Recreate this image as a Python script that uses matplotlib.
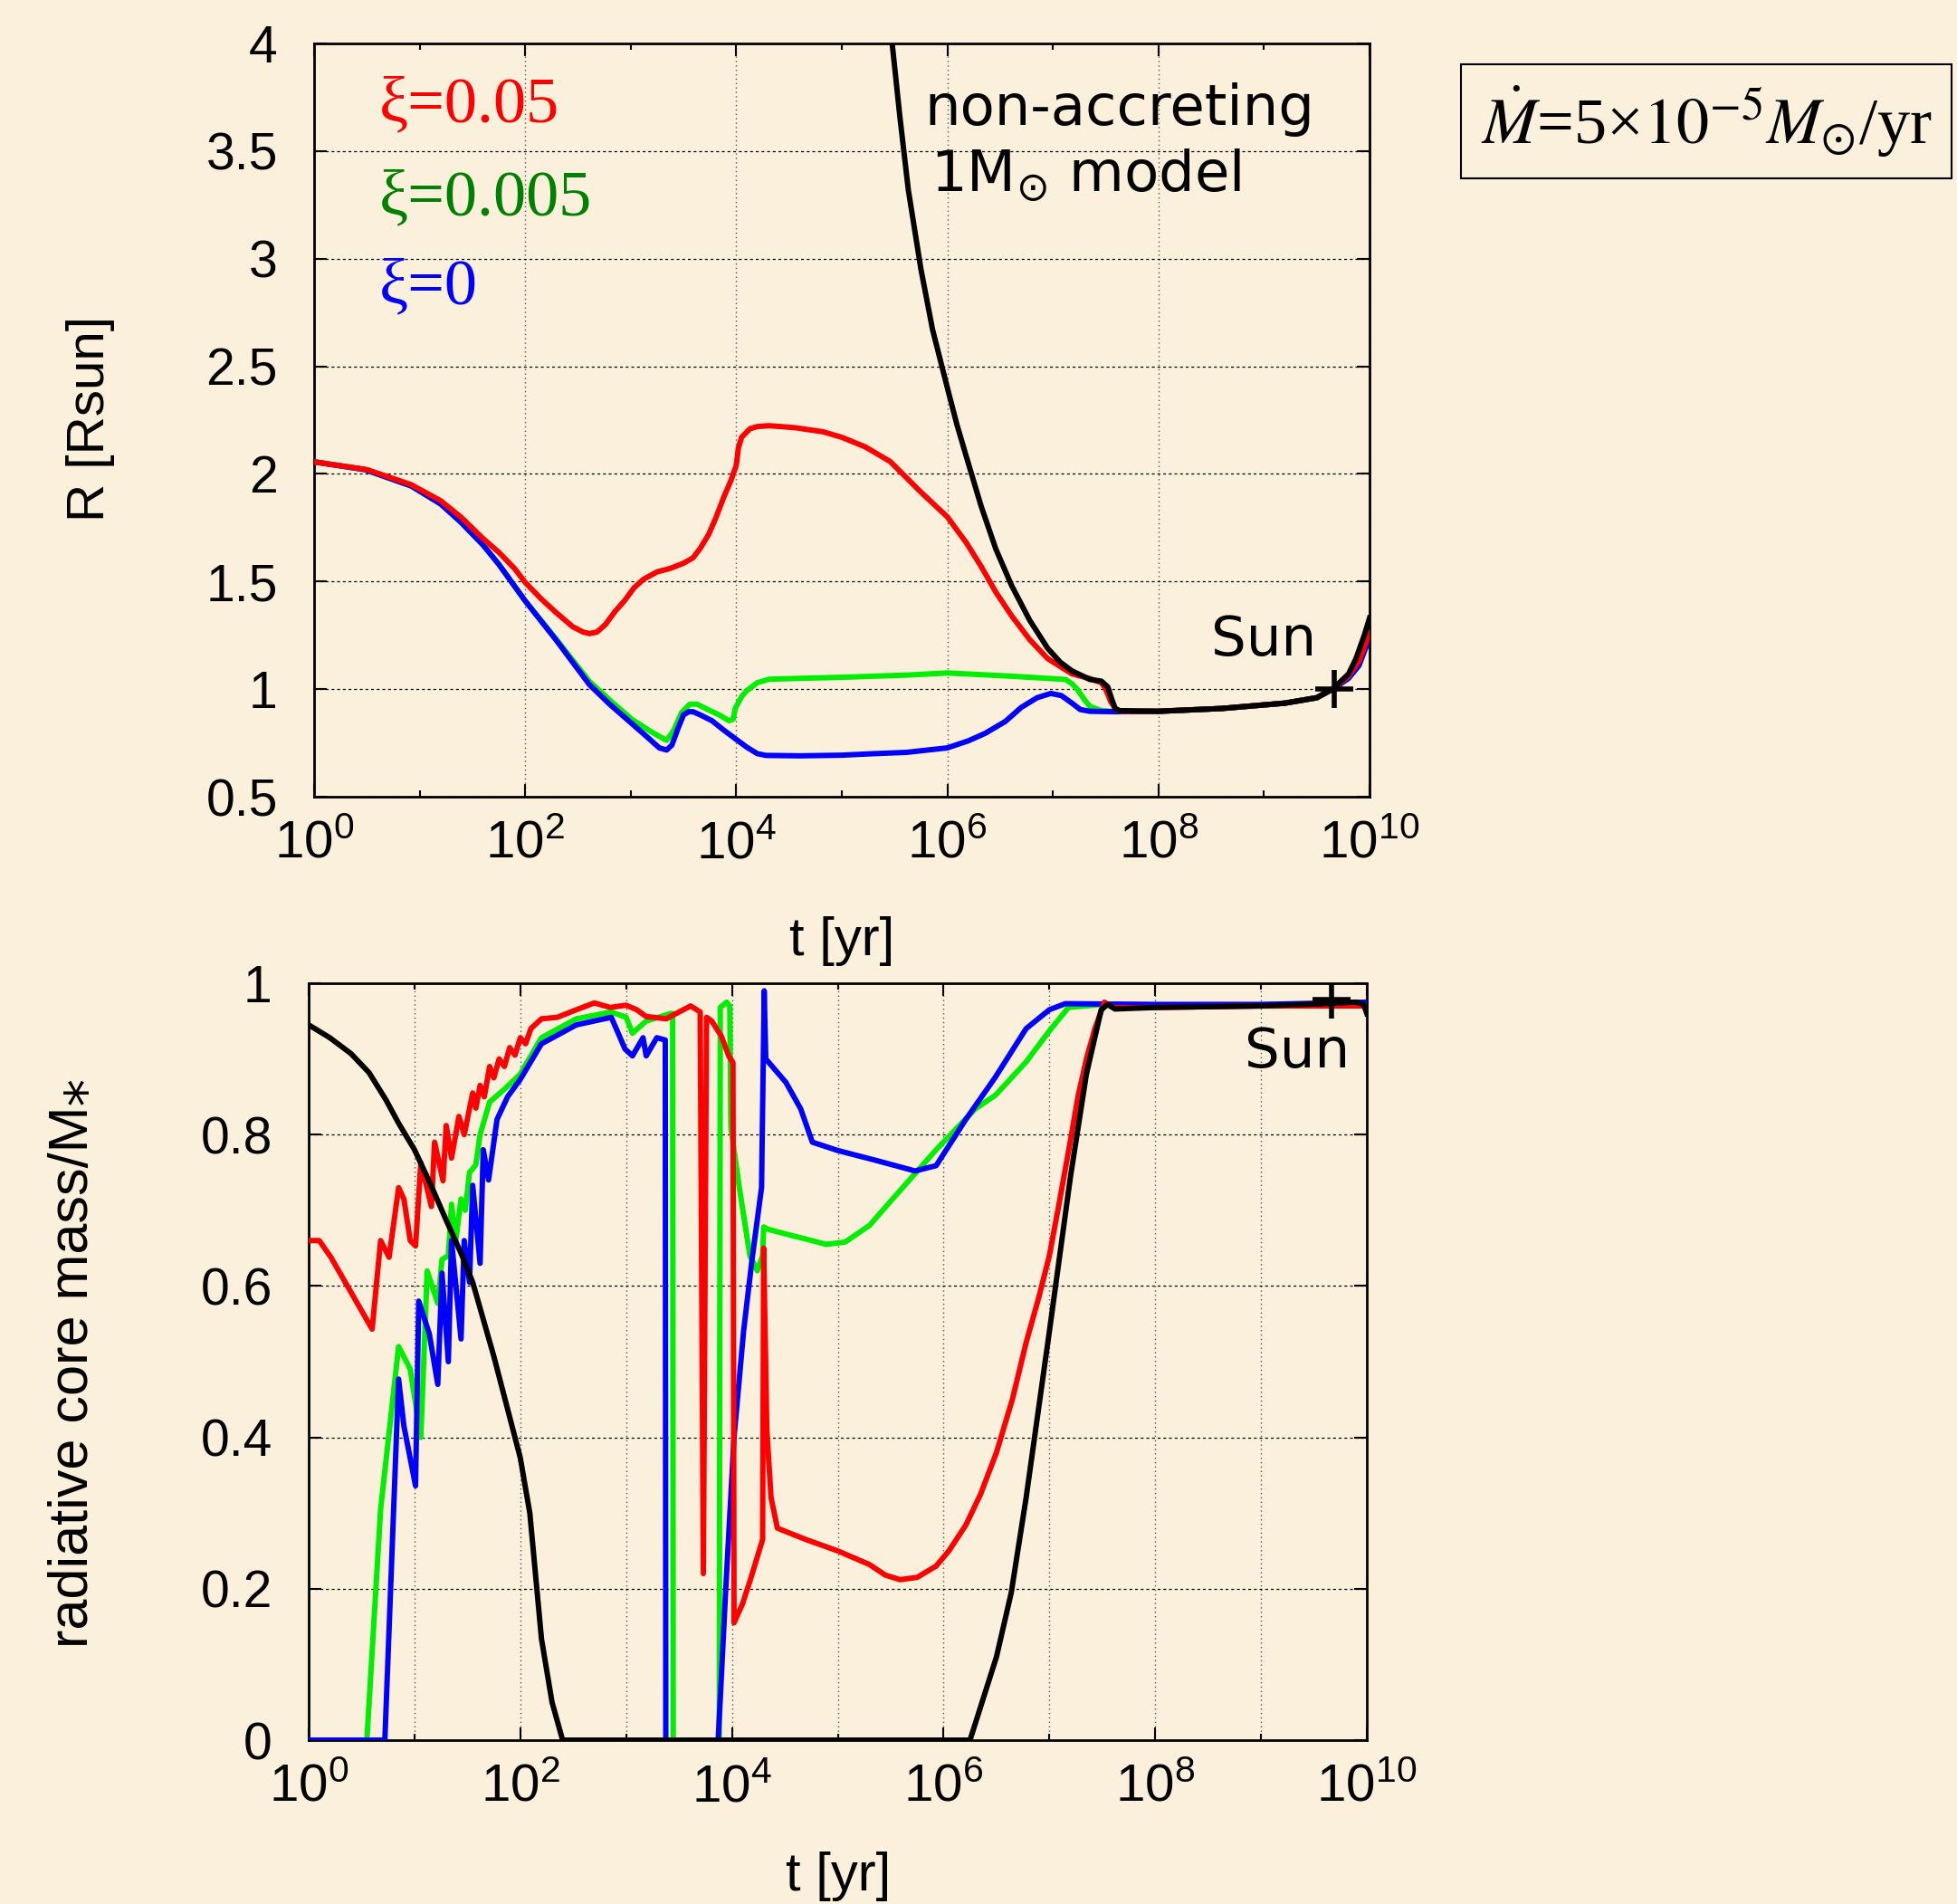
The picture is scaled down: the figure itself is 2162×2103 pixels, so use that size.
import numpy as np
import matplotlib
matplotlib.use('Agg')
import matplotlib.pyplot as plt
from matplotlib.ticker import FixedLocator, FixedFormatter, NullFormatter

# ---------------- data ----------------
# upper panel: log10(t / yr) and stellar radius R [Rsun]
logt_R_red = [0, 0.5, 0.92, 1.2, 1.39, 1.6, 1.75, 1.9, 2.0, 2.15, 2.29, 2.45, 2.55, 2.61, 2.68,
              2.76, 2.85, 2.94, 3.03, 3.12, 3.25, 3.37, 3.5, 3.59, 3.66, 3.74, 3.81, 3.88, 3.95,
              4.0, 4.02, 4.05, 4.13, 4.2, 4.31, 4.55, 4.82, 5.0, 5.22, 5.46, 5.75, 6.0, 6.18,
              6.32, 6.46, 6.61, 6.78, 6.95, 7.18, 7.35, 7.46, 7.5, 7.55, 7.6, 7.65, 8.0, 8.6,
              9.2, 9.5, 9.65, 9.8, 9.9, 10.0]
R_red = [2.056, 2.02, 1.95, 1.875, 1.80, 1.70, 1.636, 1.56, 1.496, 1.42, 1.357, 1.29, 1.265,
         1.258, 1.265, 1.30, 1.36, 1.41, 1.47, 1.51, 1.545, 1.56, 1.585, 1.61, 1.655, 1.72,
         1.80, 1.89, 1.97, 2.04, 2.12, 2.17, 2.21, 2.22, 2.224, 2.215, 2.196, 2.17, 2.126,
         2.057, 1.915, 1.80, 1.68, 1.57, 1.45, 1.34, 1.23, 1.142, 1.071, 1.049, 1.03,
         1.0, 0.94, 0.905, 0.897, 0.897, 0.91, 0.935, 0.96, 1.0, 1.06, 1.13, 1.26]

logt_R_green = [0, 0.48, 0.92, 1.2, 1.39, 1.6, 1.75, 2.0, 2.29, 2.61, 2.8, 3.01, 3.2, 3.34,
                3.41, 3.48, 3.56, 3.63, 3.73, 3.84, 3.93, 3.97, 3.99, 4.05, 4.1, 4.2, 4.31,
                4.6, 5.0, 5.61, 6.0, 6.61, 7.12, 7.18, 7.23, 7.3, 7.35, 7.46, 7.6, 8.0, 8.6,
                9.2, 9.5, 9.65, 9.8, 9.9, 10.0]
R_green = [2.056, 2.02, 1.944, 1.86, 1.776, 1.67, 1.58, 1.41, 1.235, 1.035, 0.95, 0.86, 0.80,
           0.762, 0.81, 0.89, 0.93, 0.93, 0.905, 0.88, 0.853, 0.86, 0.91, 0.965, 0.993, 1.03,
           1.046, 1.05, 1.055, 1.065, 1.075, 1.06, 1.045, 1.025, 1.0, 0.95, 0.92, 0.90, 0.895,
           0.897, 0.91, 0.935, 0.96, 1.0, 1.05, 1.11, 1.24]

logt_R_blue = [0, 0.48, 0.92, 1.2, 1.39, 1.6, 1.75, 2.0, 2.29, 2.61, 2.8, 3.01, 3.15, 3.27,
               3.34, 3.39, 3.45, 3.5, 3.55, 3.59, 3.66, 3.77, 3.88, 3.99, 4.1, 4.2, 4.28, 4.6,
               5.0, 5.3, 5.61, 6.0, 6.2, 6.36, 6.55, 6.7, 6.85, 6.98, 7.08, 7.18, 7.26, 7.35,
               7.6, 8.0, 8.6, 9.2, 9.5, 9.65, 9.8, 9.9, 10.0]
R_blue = [2.056, 2.02, 1.944, 1.86, 1.776, 1.67, 1.58, 1.41, 1.23, 1.02, 0.93, 0.84, 0.78,
          0.727, 0.717, 0.74, 0.82, 0.88, 0.895, 0.895, 0.88, 0.853, 0.81, 0.77, 0.73, 0.70,
          0.692, 0.69, 0.693, 0.70, 0.706, 0.727, 0.76, 0.795, 0.85, 0.915, 0.96, 0.98,
          0.97, 0.935, 0.905, 0.897, 0.895, 0.897, 0.91, 0.935, 0.96, 1.0, 1.05, 1.11, 1.24]

logt_R_black = [5.477, 5.55, 5.63, 5.75, 5.86, 6.0, 6.09, 6.18, 6.32, 6.46, 6.61, 6.78, 6.95,
                7.07, 7.18, 7.35, 7.46, 7.52, 7.56, 7.59, 7.63, 8.0, 8.6, 9.2, 9.5, 9.65, 9.8,
                9.87, 9.95, 10.0]
R_black = [4.0, 3.66, 3.32, 2.95, 2.67, 2.40, 2.23, 2.08, 1.85, 1.65, 1.48, 1.32, 1.19, 1.125,
           1.085, 1.045, 1.037, 1.01, 0.95, 0.91, 0.90, 0.897, 0.91, 0.935, 0.96, 1.0, 1.07,
           1.14, 1.25, 1.33]

# lower panel: log10(t / yr) and radiative core mass fraction
logt_c_red = [0, 0.1, 0.21, 0.60, 0.68, 0.76, 0.85, 0.90, 0.96, 1.01, 1.06, 1.16, 1.19, 1.27,
              1.30, 1.35, 1.42, 1.47, 1.55, 1.58, 1.62, 1.66, 1.71, 1.75, 1.8, 1.85, 1.9,
              1.95, 2.0, 2.05, 2.1, 2.2, 2.35, 2.53, 2.70, 2.85, 3.0, 3.1, 3.19, 3.38, 3.5,
              3.61, 3.70, 3.73, 3.76, 3.81, 3.90, 3.97, 4.01, 4.02, 4.1, 4.17, 4.29, 4.30,
              4.33, 4.37, 4.43, 4.7, 5.0, 5.3, 5.45, 5.59, 5.75, 5.93, 6.05, 6.21, 6.35, 6.5,
              6.65, 6.78, 6.9, 7.0, 7.1, 7.2, 7.27, 7.35, 7.43, 7.52, 7.6, 8.0, 9.0, 10.0]
core_red = [0.66, 0.66, 0.638, 0.543, 0.66, 0.638, 0.73, 0.715, 0.66, 0.653, 0.763, 0.705,
            0.79, 0.739, 0.812, 0.769, 0.824, 0.80, 0.855, 0.835, 0.865, 0.85, 0.89, 0.875,
            0.90, 0.89, 0.915, 0.905, 0.928, 0.92, 0.94, 0.953, 0.955, 0.965, 0.974, 0.968,
            0.971, 0.965, 0.956, 0.953, 0.962, 0.97, 0.962, 0.22, 0.955, 0.95, 0.93, 0.904,
            0.895, 0.155, 0.18, 0.21, 0.265, 0.65, 0.41, 0.32, 0.28, 0.265, 0.25, 0.232,
            0.218, 0.212, 0.215, 0.23, 0.25, 0.284, 0.325, 0.38, 0.45, 0.525, 0.585, 0.64,
            0.715, 0.793, 0.85, 0.90, 0.94, 0.975, 0.968, 0.968, 0.97, 0.97]

logt_c_green = [0, 0.55, 0.68, 0.85, 0.96, 1.06, 1.12, 1.22, 1.26, 1.32, 1.35, 1.39, 1.44,
                1.48, 1.52, 1.58, 1.62, 1.71, 1.85, 2.0, 2.2, 2.53, 2.86, 3.0, 3.06, 3.19,
                3.42, 3.44, 3.445, 3.88, 3.89, 3.95, 3.98, 3.99, 4.07, 4.17, 4.24, 4.29, 4.30,
                4.34, 4.50, 4.7, 4.89, 5.07, 5.3, 5.5, 5.93, 6.3, 6.49, 6.78, 7.0, 7.18, 7.5,
                8.0, 9.0, 10.0]
core_green = [0, 0, 0.305, 0.52, 0.49, 0.40, 0.62, 0.577, 0.635, 0.64, 0.708, 0.66, 0.715,
              0.70, 0.75, 0.76, 0.80, 0.843, 0.86, 0.88, 0.928, 0.953, 0.962, 0.955, 0.934,
              0.95, 0.96, 0.96, 0.0, 0.0, 0.968, 0.975, 0.97, 0.81, 0.73, 0.64, 0.62, 0.64,
              0.678, 0.675, 0.669, 0.662, 0.655, 0.658, 0.68, 0.712, 0.78, 0.834, 0.852,
              0.896, 0.937, 0.968, 0.972, 0.97, 0.97, 0.97]

logt_c_blue = [0, 0.72, 0.85, 0.90, 1.01, 1.04, 1.14, 1.22, 1.26, 1.32, 1.35, 1.44, 1.47,
               1.52, 1.55, 1.62, 1.65, 1.70, 1.78, 1.88, 2.0, 2.2, 2.53, 2.86, 2.99, 3.06,
               3.16, 3.19, 3.29, 3.37, 3.375, 3.87, 3.94, 4.02, 4.11, 4.19, 4.28, 4.305, 4.32,
               4.51, 4.65, 4.76, 5.0, 5.36, 5.73, 5.93, 6.21, 6.49, 6.78, 7.0, 7.15, 8.0, 9.0,
               10.0]
core_blue = [0, 0, 0.477, 0.415, 0.336, 0.58, 0.537, 0.47, 0.617, 0.50, 0.66, 0.53, 0.66,
             0.605, 0.733, 0.63, 0.78, 0.74, 0.82, 0.85, 0.873, 0.92, 0.945, 0.955, 0.913,
             0.904, 0.928, 0.904, 0.928, 0.925, 0.0, 0.0, 0.195, 0.40, 0.54, 0.635, 0.73,
             0.99, 0.90, 0.869, 0.834, 0.79, 0.779, 0.766, 0.752, 0.759, 0.82, 0.876, 0.94,
             0.965, 0.973, 0.972, 0.972, 0.975]

logt_c_black = [0, 0.2, 0.4, 0.57, 0.73, 0.85, 1.0, 1.15, 1.29, 1.45, 1.55, 1.75, 2.0, 2.09,
                2.2, 2.3, 2.4, 6.25, 6.5, 6.64, 6.78, 7.0, 7.2, 7.35, 7.49, 7.55, 7.62, 8.0,
                9.0, 9.6, 9.9, 9.97, 10.0]
core_black = [0.945, 0.928, 0.907, 0.882, 0.846, 0.815, 0.78, 0.735, 0.69, 0.64, 0.605, 0.507,
              0.373, 0.30, 0.134, 0.05, 0.0, 0.0, 0.11, 0.195, 0.32, 0.54, 0.745, 0.88, 0.965,
              0.972, 0.966, 0.968, 0.970, 0.973, 0.975, 0.972, 0.96]

# present Sun
sun_t = 4.6e9
sun_R = 1.0
sun_core = 0.978

# axes ticks
xtick_major = [1e0, 1e2, 1e4, 1e6, 1e8, 1e10]
xtick_minor = [1e1, 1e3, 1e5, 1e7, 1e9]
xtick_labels = [r'$10^{0}$', r'$10^{2}$', r'$10^{4}$', r'$10^{6}$', r'$10^{8}$', r'$10^{10}$']
ytick_R = [0.5, 1, 1.5, 2, 2.5, 3, 3.5, 4]
ytick_R_labels = ['0.5', '1', '1.5', '2', '2.5', '3', '3.5', '4']
ytick_c = [0, 0.2, 0.4, 0.6, 0.8, 1.0]
ytick_c_labels = ['0', '0.2', '0.4', '0.6', '0.8', '1']

series_names = ['ξ=0.05', 'ξ=0.005', 'ξ=0']

# ---------------- style ----------------
bg = '#faf0dc'
plt.rcParams['font.family'] = ['Liberation Sans', 'DejaVu Sans']
plt.rcParams['mathtext.fontset'] = 'custom'
plt.rcParams['mathtext.rm'] = 'Liberation Sans'
plt.rcParams['mathtext.it'] = 'Liberation Sans:italic'
plt.rcParams['mathtext.bf'] = 'Liberation Sans:bold'

W, H = 2162, 2103
fig = plt.figure(figsize=(W / 100, H / 100), dpi=100, facecolor=bg)

ax1 = fig.add_axes([347 / W, 1 - 880 / H, 1166 / W, 832 / H], facecolor=bg)
ax2 = fig.add_axes([341 / W, 1 - 1922 / H, 1169 / W, 836 / H], facecolor=bg)

lw = 4.3
curve_colors = ['#ff0000', '#00ee00', '#0000ff']


def t_of(logt):
    return 10.0 ** np.asarray(logt)


# upper panel curves
ax1.plot(t_of(logt_R_green), R_green, color=curve_colors[1], lw=lw, zorder=3)
ax1.plot(t_of(logt_R_blue), R_blue, color=curve_colors[2], lw=lw, zorder=4)
ax1.plot(t_of(logt_R_red), R_red, color=curve_colors[0], lw=lw, zorder=5)
ax1.plot(t_of(logt_R_black), R_black, color='black', lw=lw, zorder=6)
ax1.plot([sun_t], [sun_R], marker='+', ms=30, mew=4, color='black', zorder=7)

# lower panel curves
ax2.plot(t_of(logt_c_green), core_green, color=curve_colors[1], lw=lw, zorder=3)
ax2.plot(t_of(logt_c_blue), core_blue, color=curve_colors[2], lw=lw, zorder=4)
ax2.plot(t_of(logt_c_red), core_red, color=curve_colors[0], lw=lw, zorder=5)
ax2.plot(t_of(logt_c_black), core_black, color='black', lw=lw, zorder=6)
ax2.plot([sun_t], [sun_core], marker='+', ms=30, mew=4, color='black', zorder=7)

for ax, yt, ytl, ylim, xgrid_which in [(ax1, ytick_R, ytick_R_labels, (0.5, 4), 'major'),
                                       (ax2, ytick_c, ytick_c_labels, (0, 1), 'both')]:
    ax.set_xscale('log')
    ax.set_xlim(1, 1e10)
    ax.set_ylim(*ylim)
    ax.xaxis.set_major_locator(FixedLocator(xtick_major))
    ax.xaxis.set_major_formatter(FixedFormatter(xtick_labels))
    ax.xaxis.set_minor_locator(FixedLocator(xtick_minor))
    ax.xaxis.set_minor_formatter(NullFormatter())
    ax.yaxis.set_major_locator(FixedLocator(yt))
    ax.yaxis.set_major_formatter(FixedFormatter(ytl))
    ax.tick_params(which='both', direction='in', top=True, right=True, width=1.5)
    ax.tick_params(which='major', length=10)
    ax.tick_params(which='minor', length=5)
    ax.tick_params(axis='x', which='major', pad=18, labelsize=42)
    ax.tick_params(axis='y', which='major', pad=29, labelsize=41)
    for s in ax.spines.values():
        s.set_linewidth(2)
    ax.grid(True, axis='y', which='major', color='black', lw=0.9, ls=(0, (2.5, 2.5)))
    ax.grid(True, axis='x', which=xgrid_which, color='#555555', lw=1.0, ls=(0, (1, 2.5)))
    ax.set_axisbelow(True)

# axis labels
fig.text(100 / W, 1 - 462 / H, 'R [Rsun]', rotation=90, ha='center', va='center', fontsize=42)
fig.text(82 / W, 1 - 1505 / H, 'radiative core mass/M\u204e', rotation=90, ha='center',
         va='center', fontsize=44)
fig.text(930 / W, 1 - 1055 / H, 't [yr]', ha='center', va='baseline', fontsize=43)
fig.text(926 / W, 1 - 2088 / H, 't [yr]', ha='center', va='baseline', fontsize=43)

# legend-like labels
legend_colors = ['#ff0000', '#008000', '#0000ff']
legend_R = [3.638, 3.205, 2.793]
for name, c, yy in zip(series_names, legend_colors, legend_R):
    ax1.text(4.1, yy, name, color=c, fontsize=52, va='baseline', ha='left',
             family=['Liberation Serif', 'DejaVu Serif'])

# annotations
ax1.text(10 ** 5.78, 3.62, 'non-accreting', fontsize=45, va='baseline', ha='left',
         family='DejaVu Sans')
t1 = ax1.text(10 ** 5.84, 3.31, r'1M$_{\odot}$ model', fontsize=45, va='baseline', ha='left',
              family='DejaVu Sans')
t1.set_math_fontfamily('dejavusans')
ax1.text(10 ** 9.0, 1.156, 'Sun', fontsize=44, va='baseline', ha='center', family='DejaVu Sans')
ax2.text(10 ** 9.34, 0.889, 'Sun', fontsize=44, va='baseline', ha='center', family='DejaVu Sans')

# accretion rate box
box = fig.text(1885 / W, 1 - 134 / H, r'$\dot{M}$=5×$\mathrm{10^{-5}}$$M_{\odot}$/yr',
               ha='center', va='center', fontsize=52,
               family=['Liberation Serif', 'DejaVu Serif'],
               bbox=dict(boxstyle='square,pad=0.3', fc='none', ec='black', lw=1.5))
box.set_math_fontfamily('stix')

fig.savefig('out.png', dpi=100, facecolor=bg)
